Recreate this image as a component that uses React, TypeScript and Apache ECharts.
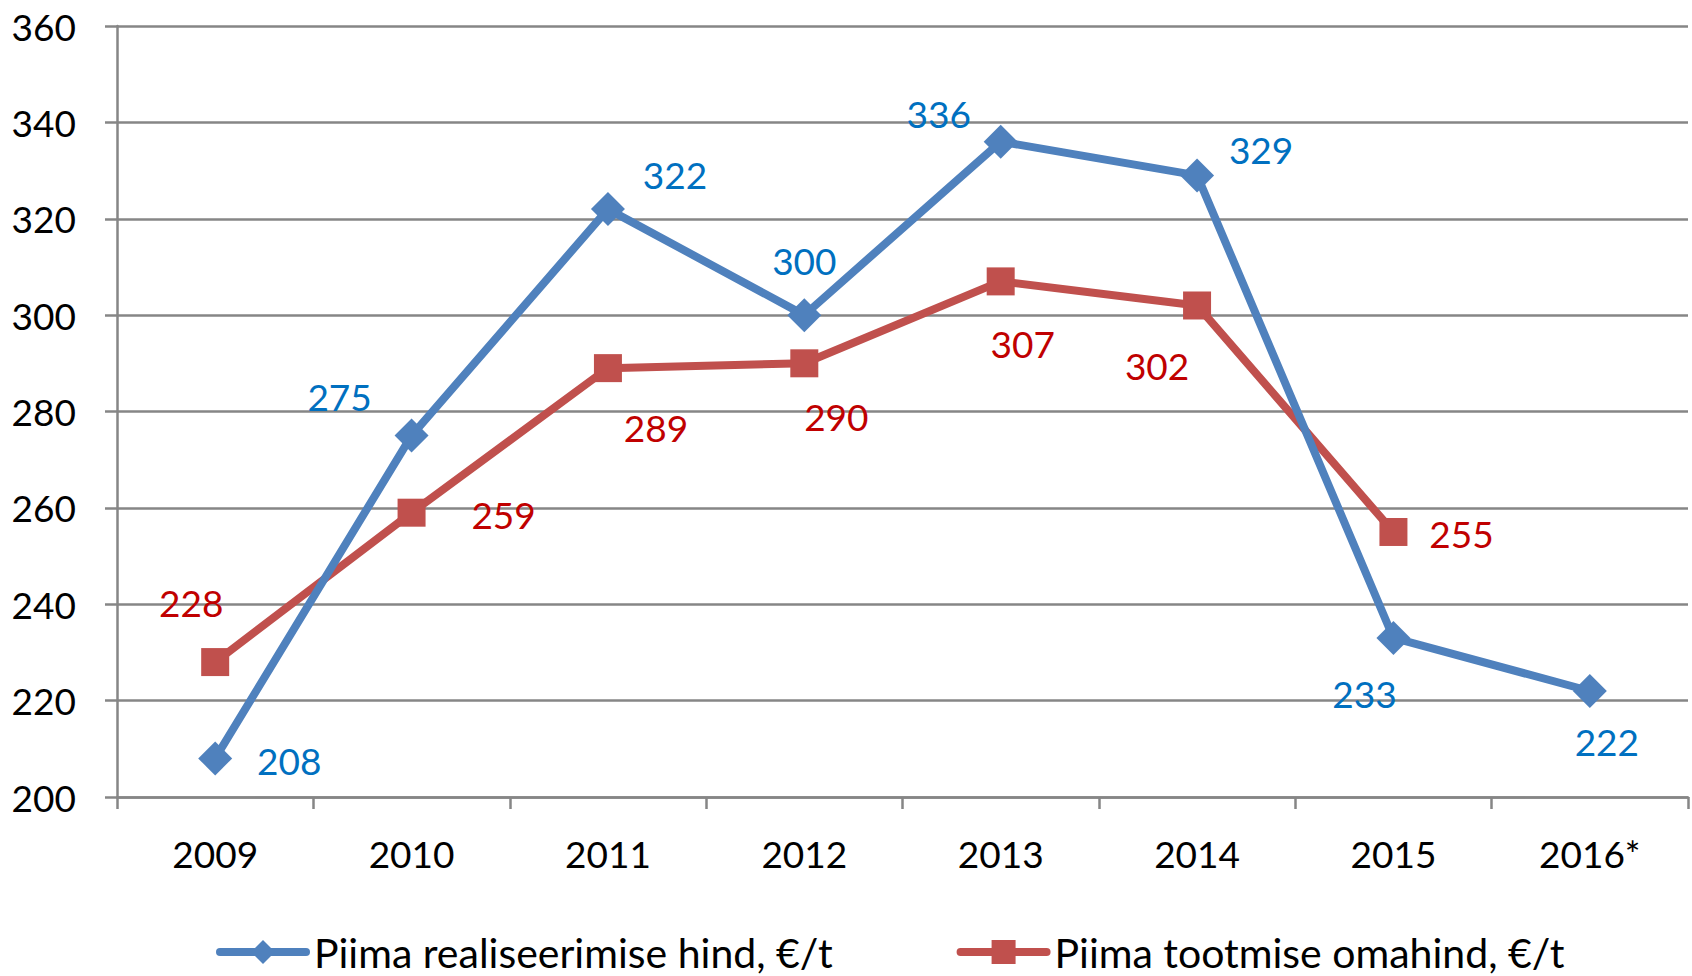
import React, { useEffect, useRef } from "react";
import * as echarts from "echarts";

const categories = ["2009", "2010", "2011", "2012", "2013", "2014", "2015", "2016*"];
const seriesNames = ["Piima realiseerimise hind, €/t", "Piima tootmise omahind, €/t"];
const priceValues = [208, 275, 322, 300, 336, 329, 233, 222];
const costValues: (number | null)[] = [228, 259, 289, 290, 307, 302, 255, null];
const yTicks = { min: 200, max: 360, interval: 20 };

// label offsets (px) relative to each point
const priceLabelOffsets: [number, number][] = [
  [74, 2], [-72, -39], [67, -35], [0, -55], [-62, -28], [64, -26], [-29, 56], [17, 51],
];
const costLabelOffsets: [number, number][] = [
  [-24, -60], [92, 2], [48, 59], [32, 53], [22, 62], [-40, 60], [68, 2], [0, 0],
];

const FONT = "Lato, 'Open Sans', sans-serif";

export default function App() {
  const ref = useRef<HTMLDivElement>(null);
  useEffect(() => {
    if (!ref.current) return;
    const chart = echarts.init(ref.current, undefined, { renderer: "svg" });
    const mk = (vals: (number | null)[], offs: [number, number][], color: string) =>
      vals.map((v, i) => ({
        value: v,
        label: {
          show: v !== null,
          position: "inside",
          offset: offs[i],
          color,
          fontSize: 37,
          fontFamily: FONT,
          align: "center",
          verticalAlign: "middle",
        },
      }));
    chart.setOption({
      animation: false,
      backgroundColor: "#ffffff",
      textStyle: { fontFamily: FONT },
      grid: { left: 117, right: 4, top: 26, bottom: 179, containLabel: false },
      legend: {
        left: 216,
        top: 930,
        itemWidth: 86,
        itemHeight: 30,
        itemGap: 124,
        padding: 0,
        textStyle: { fontSize: 41, fontFamily: FONT, color: "#000", padding: [0, 0, 0, 3], lineHeight: 44 },
        data: [
          { name: seriesNames[0], lineStyle: { width: 8, cap: "round" } },
          { name: seriesNames[1], lineStyle: { width: 8, cap: "round" } },
        ],
      },
      xAxis: {
        type: "category",
        data: categories,
        boundaryGap: true,
        axisLine: { lineStyle: { color: "#868686", width: 2.5 } },
        axisTick: { show: true, length: 12, lineStyle: { color: "#868686", width: 2.5 } },
        axisLabel: { color: "#000", fontSize: 37, fontFamily: FONT, margin: 38 },
      },
      yAxis: {
        type: "value",
        min: yTicks.min,
        max: yTicks.max,
        interval: yTicks.interval,
        axisLine: { show: true, lineStyle: { color: "#868686", width: 2.5 } },
        axisTick: { show: true, length: 12, lineStyle: { color: "#868686", width: 2.5 } },
        splitLine: { show: true, lineStyle: { color: "#868686", width: 2.5 } },
        axisLabel: { color: "#000", fontSize: 37, fontFamily: FONT, margin: 41 },
      },
      series: [
        {
          name: seriesNames[0],
          type: "line",
          data: mk(priceValues, priceLabelOffsets, "#0070C0"),
          symbol: "diamond",
          symbolSize: 34,
          lineStyle: { color: "#4F81BD", width: 8 },
          itemStyle: { color: "#4F81BD" },
          z: 3,
        },
        {
          name: seriesNames[1],
          type: "line",
          data: mk(costValues, costLabelOffsets, "#C00000"),
          symbol: "rect",
          symbolSize: 28,
          lineStyle: { color: "#C0504D", width: 8 },
          itemStyle: { color: "#C0504D" },
          z: 2,
        },
      ],
    });
    return () => chart.dispose();
  }, []);
  return (
    <div
      ref={ref}
      style={{ position: "fixed", left: 0, top: 0, width: 1692, height: 976, background: "#fff" }}
    />
  );
}
